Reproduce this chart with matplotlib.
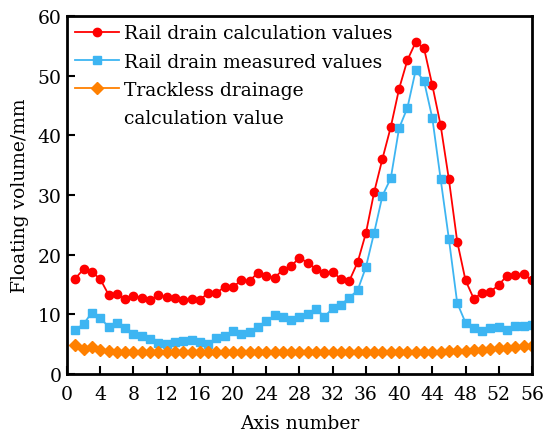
import matplotlib.pyplot as plt
from matplotlib.lines import Line2D

axis_no = list(range(1, 57))

rail_calc = [16.0, 17.6, 17.1, 15.9, 13.3, 13.4, 12.6, 13.1, 12.8, 12.4,
             13.2, 12.9, 12.7, 12.4, 12.6, 12.4, 13.6, 13.6, 14.6, 14.6,
             15.7, 15.6, 17.0, 16.5, 16.1, 17.5, 18.1, 19.5, 18.6, 17.6,
             17.0, 17.1, 15.9, 15.6, 18.7, 23.6, 30.5, 36.1, 41.4, 47.8,
             52.6, 55.6, 54.6, 48.4, 41.7, 32.6, 22.2, 15.7, 12.6, 13.6,
             13.8, 14.9, 16.5, 16.6, 16.7, 15.7]

rail_meas = [7.4, 8.4, 10.3, 9.4, 7.9, 8.5, 7.7, 6.7, 6.3, 5.9,
             5.2, 5.0, 5.3, 5.5, 5.7, 5.3, 5.0, 6.0, 6.3, 7.2,
             6.7, 7.0, 7.9, 8.9, 9.8, 9.5, 9.1, 9.6, 10.0, 10.9,
             9.6, 11.0, 11.6, 12.8, 14.0, 17.9, 23.7, 29.9, 32.8, 41.2,
             44.6, 50.9, 49.1, 42.9, 32.7, 22.6, 11.9, 8.6, 7.7, 7.2,
             7.7, 7.8, 7.3, 8.1, 8.0, 8.2]

trackless = [4.8, 4.2, 4.6, 4.1, 3.8, 3.7, 3.7, 3.6, 3.6, 3.6,
             3.7, 3.7, 3.6, 3.6, 3.6, 3.7, 3.7, 3.7, 3.7, 3.7,
             3.7, 3.7, 3.7, 3.7, 3.7, 3.7, 3.7, 3.7, 3.7, 3.7,
             3.7, 3.7, 3.7, 3.7, 3.7, 3.7, 3.7, 3.7, 3.7, 3.7,
             3.7, 3.7, 3.7, 3.7, 3.7, 3.8, 3.8, 3.9, 4.0, 4.1,
             4.2, 4.3, 4.4, 4.6, 4.7, 4.7]

plt.rcParams['font.family'] = ['DejaVu Serif']
fs = 13.5

fig = plt.figure(figsize=(5.45, 4.35), dpi=100)
ax = fig.add_axes([0.123, 0.138, 0.853, 0.823])

ax.plot(axis_no, rail_calc, color='#ff0000', marker='o', markersize=6,
        linewidth=1.3, label='Rail drain calculation values')
ax.plot(axis_no, rail_meas, color='#3db5f2', marker='s', markersize=5.5,
        linewidth=1.3, label='Rail drain measured values')
ax.plot(axis_no, trackless, color='#ff8000', marker='D', markersize=6,
        linewidth=1.3, label='Trackless drainage')

ax.set_xlim(0, 56)
ax.set_ylim(0, 60)
ax.set_xticks(range(0, 57, 4))
ax.set_yticks(range(0, 61, 10))
ax.tick_params(direction='in', length=6, width=1.5, labelsize=fs)
ax.tick_params(axis='x', pad=8)
ax.tick_params(axis='y', pad=4)
for s in ax.spines.values():
    s.set_linewidth(2)

ax.set_xlabel('Axis number', fontsize=fs, labelpad=8)
ax.set_ylabel('Floating volume/mm', fontsize=fs, labelpad=6)

# second line of the orange label sits under the text, handle stays on the first line
handles, labels = ax.get_legend_handles_labels()
handles.append(Line2D([], [], linestyle='none'))
labels.append('calculation value')
ax.legend(handles, labels, loc='upper left', frameon=False, fontsize=fs,
          handlelength=2.3, borderaxespad=0.4, borderpad=0.05,
          labelspacing=0.55, handletextpad=0.3)

fig.savefig('out.png', dpi=100)
